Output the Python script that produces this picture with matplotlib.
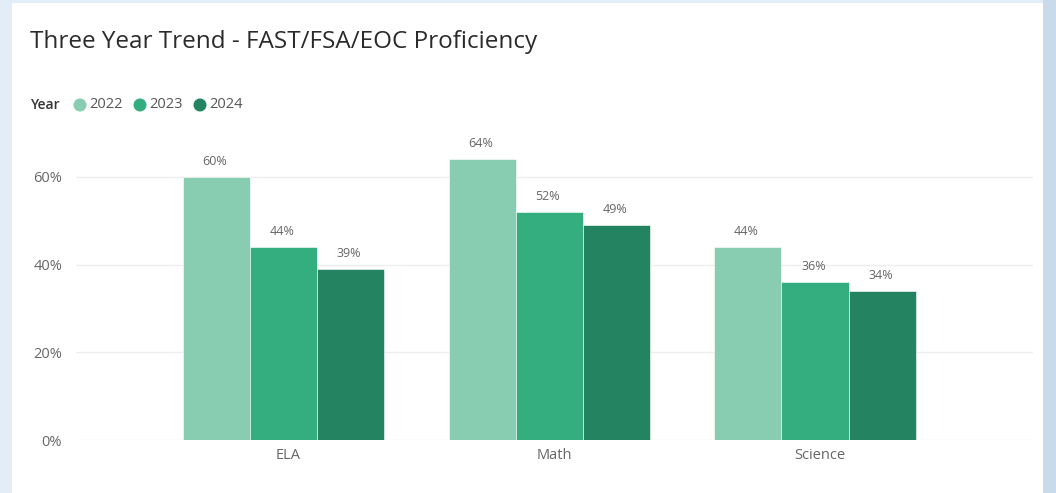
import matplotlib
matplotlib.use("Agg")
import matplotlib.pyplot as plt
import matplotlib.transforms as mtransforms
import numpy as np
from matplotlib.patches import Rectangle, Ellipse

subjects = ["ELA", "Math", "Science"]
years = ["2022", "2023", "2024"]
values = {
    "2022": [60, 64, 44],
    "2023": [44, 52, 36],
    "2024": [39, 49, 34],
}
colors = {"2022": "#88cdb1", "2023": "#34ad7f", "2024": "#248361"}
yticks = [0, 20, 40, 60]

plt.rcParams['font.family'] = ['Open Sans', 'DejaVu Sans']

W, H = 1056, 493
fig = plt.figure(figsize=(W/100, H/100), dpi=100)
fig.patch.set_facecolor("#e3edf7")
# white panel
fig.patches.append(Rectangle((12/W, 0), (1043-12)/W, 1-3/H, transform=fig.transFigure,
                             facecolor="white", edgecolor="none", zorder=-10))
# right darker strip
fig.patches.append(Rectangle((1043/W, 0), 13/W, 1, transform=fig.transFigure,
                             facecolor="#c9daeb", edgecolor="none", zorder=-10))

ax = fig.add_axes([76/W, 1-440/H, (1033-76)/W, (440-133)/H])
ax.set_zorder(5)
ax.set_facecolor("none")
x = np.arange(len(subjects))
bw = 0.2523
for i, yr in enumerate(years):
    pos = x + (i-1)*bw
    ax.bar(pos, values[yr], width=bw, color=colors[yr], edgecolor="#ffffff",
           linewidth=0.4, zorder=3)
    for p, v in zip(pos, values[yr]):
        ax.annotate(f"{v}%", (p, v), xytext=(-1, 6.5), textcoords="offset points",
                    ha="center", va="bottom", fontsize=9, color="#666666")

ax.set_xlim(-0.78, 2.82)
ax.set_ylim(0, 70)
ax.set_yticks(yticks)
ax.set_yticklabels([f"{t}%" for t in yticks])
ax.set_xticks(x)
ax.set_xticklabels(subjects)
ax.tick_params(axis='both', length=0, colors="#666666", labelsize=10.5)
ax.tick_params(axis='y', pad=10)
ax.tick_params(axis='x', pad=6)
offset = mtransforms.ScaledTranslation(5/100, 0, fig.dpi_scale_trans)
for lab in ax.get_xticklabels():
    lab.set_transform(lab.get_transform() + offset)
ax.grid(axis='y', color="#eeeeee", linewidth=1, zorder=0)
for s in ax.spines.values():
    s.set_visible(False)

fig.text(30/W, 1-42/H, "Three Year Trend - FAST/FSA/EOC Proficiency", fontsize=17.5,
         color="#2b2b2b", va="center", ha="left")
fig.text(30/W, 1-105/H, "Year", fontsize=10, color="#333333", va="center", ha="left",
         fontweight="semibold")
lx = [80, 140, 200]
for xx, yr in zip(lx, years):
    fig.patches.append(Ellipse((xx/W, 1-105/H), 13/W, 13/H, transform=fig.transFigure,
                               facecolor=colors[yr], edgecolor="none", zorder=2))
    fig.text((xx+9)/W, 1-105/H, yr, fontsize=10.5, color="#555555", va="center", ha="left")

fig.savefig("out.png", dpi=100)
